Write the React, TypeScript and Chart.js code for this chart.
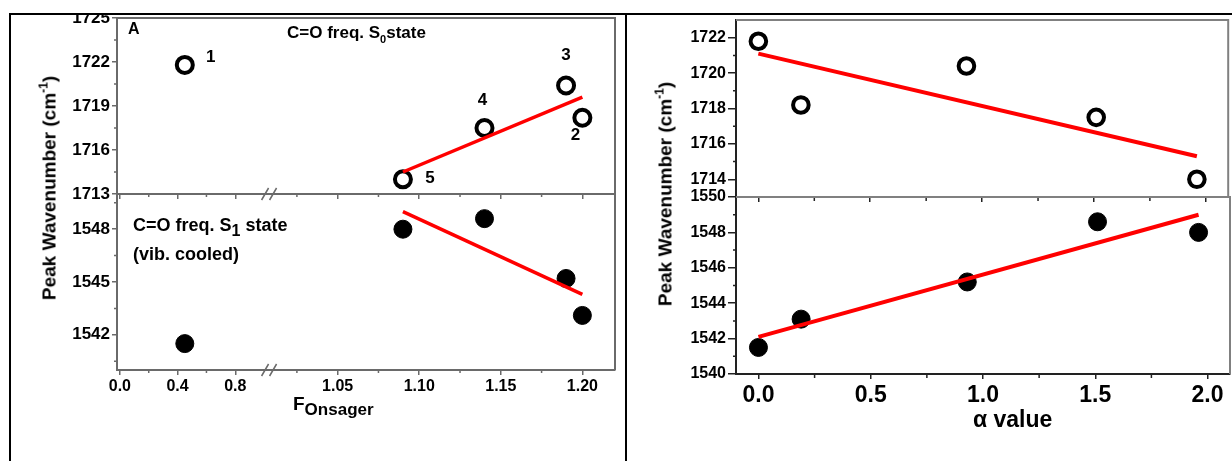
import React, { useEffect, useRef } from 'react';
import { Chart, registerables, LinearScale } from 'chart.js';

Chart.register(...registerables);

// ---------------- data ----------------
const compoundIds = ['1', '2', '3', '4', '5'];
const fOnsager = [0.45, 1.2, 1.19, 1.14, 1.09];
const alphaValue = [0.0, 0.19, 0.93, 1.51, 1.96];
const s0Freq = [1721.8, 1718.2, 1720.4, 1717.5, 1714.0];
const s1Freq = [1541.5, 1543.1, 1545.2, 1548.6, 1548.0];

// linear fit end points
const onsagerFitX = [1.09, 1.2];
const s0OnsagerFitY = [1714.5, 1719.6];
const s1OnsagerFitY = [1549.0, 1544.3];
const alphaFitX = [0.0, 1.96];
const s0AlphaFitY = [1721.1, 1715.3];
const s1AlphaFitY = [1542.1, 1549.0];

// ticks
const onsagerTicks = [0, 0.4, 0.8, 1.05, 1.1, 1.15, 1.2];
const onsagerTickLabels = ['0.0', '0.4', '0.8', '1.05', '1.10', '1.15', '1.20'];
const onsagerMinorTicks = [0.2, 0.6, 1.025, 1.075, 1.125, 1.175];
const s0LeftTicks = [1713, 1716, 1719, 1722, 1725];
const s0LeftMinor = [1714.5, 1717.5, 1720.5, 1723.5];
const s1LeftTicks = [1542, 1545, 1548];
const s1LeftMinor = [1540.5, 1543.5, 1546.5, 1549.5];
const alphaTicks = [0, 0.5, 1, 1.5, 2];
const alphaTickLabels = ['0.0', '0.5', '1.0', '1.5', '2.0'];
const alphaMinor = [0.25, 0.75, 1.25, 1.75];
const s0RightTicks = [1714, 1716, 1718, 1720, 1722];
const s0RightMinor = [1715, 1717, 1719, 1721];
const s1RightTicks = [1540, 1542, 1544, 1546, 1548, 1550];
const s1RightMinor = [1541, 1543, 1545, 1547, 1549];

// ---------------- styling ----------------
const FONT = '"Liberation Sans", Arial, Helvetica, sans-serif';
const RED = '#ff0000';
const AX_L = '#6a6a6a';
const AX_R = '#222222';
const BOX_R = '#808080';

// broken x axis (left panel): value ranges and the share of the axis each one gets
const BREAK_SEGMENTS = [
  { min: -0.02, max: 0.99, from: 0, to: 0.2926 },
  { min: 1.01, max: 1.22, from: 0.3121, to: 1 },
];

class BrokenLinearScale extends LinearScale {
  static id = 'brokenLinear';
  static defaults = LinearScale.defaults;
  getPixelForValue(value: number) {
    const split = (BREAK_SEGMENTS[0].max + BREAK_SEGMENTS[1].min) / 2;
    const seg = value <= split ? BREAK_SEGMENTS[0] : BREAK_SEGMENTS[1];
    const dec = seg.from + ((value - seg.min) / (seg.max - seg.min)) * (seg.to - seg.from);
    return this.getPixelForDecimal(dec);
  }
  getValueForPixel(pixel: number) {
    const dec = this.getDecimalForPixel(pixel);
    const split = (BREAK_SEGMENTS[0].to + BREAK_SEGMENTS[1].from) / 2;
    const seg = dec <= split ? BREAK_SEGMENTS[0] : BREAK_SEGMENTS[1];
    return seg.min + ((dec - seg.from) / (seg.to - seg.from)) * (seg.max - seg.min);
  }
}
Chart.register(BrokenLinearScale as any);

function pts(xs: number[], ys: number[]) {
  return xs.map((x, i) => ({ x, y: ys[i] }));
}

function makeAxis(o: any) {
  return {
    type: o.type || 'linear',
    position: o.position,
    min: o.min,
    max: o.max,
    bounds: 'data',
    grid: {
      display: true,
      drawOnChartArea: false,
      drawTicks: true,
      tickLength: o.tickLength,
      color: o.color,
      lineWidth: 1.5,
    },
    border: { display: true, color: o.color, width: 2 },
    ticks: {
      display: o.showLabels,
      autoSkip: false,
      maxRotation: 0,
      minRotation: 0,
      padding: o.padding ?? 2,
      color: '#000',
      font: { family: FONT, weight: 'bold', size: o.fontSize ?? 16 },
      callback: (_v: any, i: number) => (o.labels ? o.labels[i] : String(o.values[i])),
    },
    afterBuildTicks: (s: any) => {
      s.ticks = o.values.map((v: number) => ({ value: v }));
    },
    afterFit: (s: any) => {
      if (o.position === 'left') s.width = o.size;
      else s.height = o.size;
      s.paddingLeft = 0;
      s.paddingRight = 0;
      s.paddingTop = 0;
      s.paddingBottom = 0;
    },
  };
}

function decorPlugin(d: any) {
  return {
    id: 'decor',
    afterDraw(chart: any) {
      const { ctx, chartArea: a, scales } = chart;
      ctx.save();
      // plot box (top & right)
      ctx.strokeStyle = d.boxColor;
      ctx.lineWidth = 2;
      ctx.beginPath();
      ctx.moveTo(a.left, a.top);
      ctx.lineTo(a.right, a.top);
      ctx.lineTo(a.right, a.bottom);
      ctx.stroke();
      // minor ticks
      ctx.strokeStyle = d.axisColor;
      ctx.lineWidth = 1.5;
      ctx.beginPath();
      for (const v of d.minorX) {
        const p = scales.x.getPixelForValue(v);
        ctx.moveTo(p, a.bottom);
        ctx.lineTo(p, a.bottom + d.minorLenX);
      }
      for (const v of d.minorY) {
        const p = scales.y.getPixelForValue(v);
        ctx.moveTo(a.left, p);
        ctx.lineTo(a.left - d.minorLenY, p);
      }
      ctx.stroke();
      // axis break marks
      if (d.breakMark) {
        const x0 = scales.x.getPixelForValue(BREAK_SEGMENTS[0].max);
        const x1 = scales.x.getPixelForValue(BREAK_SEGMENTS[1].min);
        const cx = (x0 + x1) / 2 + 1.5;
        const y = a.bottom;
        ctx.strokeStyle = d.axisColor;
        ctx.lineWidth = 1.5;
        ctx.beginPath();
        for (const dx of [-4, 4]) {
          ctx.moveTo(cx + dx - 3.5, y + 6);
          ctx.lineTo(cx + dx + 3.5, y - 6);
        }
        ctx.stroke();
      }
      // point labels
      if (d.pointLabels) {
        const meta = chart.getDatasetMeta(d.pointLabels.datasetIndex);
        ctx.fillStyle = '#000';
        ctx.font = `bold ${d.pointLabels.size}px ${FONT}`;
        ctx.textAlign = 'center';
        ctx.textBaseline = 'alphabetic';
        d.pointLabels.labels.forEach((t: string, i: number) => {
          const el = meta.data[i];
          const off = d.pointLabels.offsets[i];
          ctx.fillText(t, el.x + off[0], el.y + off[1]);
        });
      }
      ctx.restore();
    },
  };
}

function fitDataset(xs: number[], ys: number[], w: number) {
  return {
    data: pts(xs, ys),
    showLine: true,
    borderColor: RED,
    backgroundColor: RED,
    borderWidth: w,
    pointRadius: 0,
    pointHoverRadius: 0,
    fill: false,
    tension: 0,
  };
}
function openDataset(xs: number[], ys: number[], r: number) {
  return {
    data: pts(xs, ys),
    showLine: false,
    pointStyle: 'circle',
    pointRadius: r,
    pointHoverRadius: r,
    pointBorderWidth: 4,
    pointBorderColor: '#000',
    pointBackgroundColor: 'rgba(255,255,255,0)',
  };
}
function filledDataset(xs: number[], ys: number[], r: number) {
  return {
    data: pts(xs, ys),
    showLine: false,
    pointStyle: 'circle',
    pointRadius: r,
    pointHoverRadius: r,
    pointBorderWidth: 1,
    pointBorderColor: '#000',
    pointBackgroundColor: '#000',
  };
}

const LABEL_OFFSETS = [
  [26, -3],
  [-7, 22],
  [0, -25],
  [-2, -23],
  [27, 4],
];

function buildConfig(s: any) {
  return {
    type: 'scatter',
    data: { datasets: s.datasets },
    options: {
      responsive: false,
      maintainAspectRatio: false,
      animation: false,
      events: [],
      layout: { padding: s.padding },
      plugins: { legend: { display: false }, tooltip: { enabled: false }, title: { display: false } },
      scales: { x: makeAxis(s.x), y: makeAxis(s.y) },
    },
    plugins: [decorPlugin(s.decor)],
  } as any;
}

const CANVASES = [
  { left: 0, top: 0, width: 640, height: 215 },
  { left: 0, top: 180, width: 640, height: 281 },
  { left: 640, top: 0, width: 600, height: 215 },
  { left: 640, top: 183, width: 600, height: 278 },
];

function specs() {
  const lx = { type: 'brokenLinear', position: 'bottom', min: -0.02, max: 1.22, values: onsagerTicks, labels: onsagerTickLabels, tickLength: 5, color: AX_L };
  const rx = { type: 'linear', position: 'bottom', min: -0.1, max: 2.1, values: alphaTicks, labels: alphaTickLabels, tickLength: 5, color: AX_R };
  return [
    {
      padding: { left: 0, top: 18, right: 25, bottom: 13 },
      x: { ...lx, showLabels: false, size: 8 },
      y: { position: 'left', min: 1713, max: 1725, values: s0LeftTicks, showLabels: true, size: 117, tickLength: 5, padding: 2, fontSize: 17, color: AX_L },
      datasets: [fitDataset(onsagerFitX, s0OnsagerFitY, 3.5), openDataset(fOnsager, s0Freq, 8)],
      decor: {
        boxColor: AX_L, axisColor: AX_L, minorX: onsagerMinorTicks, minorY: s0LeftMinor, minorLenX: 3, minorLenY: 3, breakMark: true,
        pointLabels: { datasetIndex: 1, labels: compoundIds, offsets: LABEL_OFFSETS, size: 17 },
      },
    },
    {
      padding: { left: 0, top: 14, right: 25, bottom: 51 },
      x: { ...lx, showLabels: true, size: 40, fontSize: 16, padding: 2 },
      y: { position: 'left', min: 1540, max: 1550, values: s1LeftTicks, showLabels: true, size: 117, tickLength: 5, padding: 2, fontSize: 17, color: AX_L },
      datasets: [fitDataset(onsagerFitX, s1OnsagerFitY, 3.5), filledDataset(fOnsager, s1Freq, 9)],
      decor: { boxColor: AX_L, axisColor: AX_L, minorX: onsagerMinorTicks, minorY: s1LeftMinor, minorLenX: 3, minorLenY: 3, breakMark: true },
    },
    {
      padding: { left: 0, top: 20, right: 5.3, bottom: 10 },
      x: { ...rx, showLabels: false, size: 8 },
      y: { position: 'left', min: 1713, max: 1723, values: s0RightTicks, showLabels: true, size: 96, tickLength: 8, padding: 2, fontSize: 16, color: AX_R },
      datasets: [fitDataset(alphaFitX, s0AlphaFitY, 4), openDataset(alphaValue, s0Freq, 7.8)],
      decor: { boxColor: BOX_R, axisColor: AX_R, minorX: alphaMinor, minorY: s0RightMinor, minorLenX: 4, minorLenY: 3, breakMark: false },
    },
    {
      padding: { left: 0, top: 14, right: 5.3, bottom: 47 },
      x: { ...rx, showLabels: true, size: 40, fontSize: 23, padding: 3 },
      y: { position: 'left', min: 1540, max: 1550, values: s1RightTicks, showLabels: true, size: 96, tickLength: 8, padding: 2, fontSize: 16, color: AX_R },
      datasets: [fitDataset(alphaFitX, s1AlphaFitY, 4), filledDataset(alphaValue, s1Freq, 9)],
      decor: { boxColor: BOX_R, axisColor: AX_R, minorX: alphaMinor, minorY: s1RightMinor, minorLenX: 4, minorLenY: 3, breakMark: false },
    },
  ];
}

function Txt(props: { x: number; baseline: number; size: number; children: any; style?: any }) {
  const { x, baseline, size, children, style } = props;
  return (
    <div
      style={{
        position: 'absolute',
        left: x,
        top: baseline - 0.8465 * size,
        fontSize: size,
        lineHeight: `${size}px`,
        fontWeight: 'bold',
        whiteSpace: 'nowrap',
        color: '#000',
        ...style,
      }}
    >
      {children}
    </div>
  );
}

function YTitle(props: { cx: number; cy: number; size: number }) {
  const { cx, cy, size } = props;
  return (
    <div
      style={{
        position: 'absolute',
        left: cx,
        top: cy,
        transform: 'translate(-50%, -50%) rotate(-90deg)',
        fontSize: size,
        lineHeight: `${size}px`,
        fontWeight: 'bold',
        whiteSpace: 'nowrap',
        color: '#000',
      }}
    >
      Peak Wavenumber (cm
      <span style={{ fontSize: Math.round(size * 0.65), lineHeight: 1, position: 'relative', top: -size * 0.42 }}>-1</span>)
    </div>
  );
}

export default function App() {
  const r0 = useRef<HTMLCanvasElement>(null);
  const r1 = useRef<HTMLCanvasElement>(null);
  const r2 = useRef<HTMLCanvasElement>(null);
  const r3 = useRef<HTMLCanvasElement>(null);
  const refs = [r0, r1, r2, r3];

  useEffect(() => {
    const ss = specs();
    const charts = ss.map((s, i) => new Chart(refs[i].current as HTMLCanvasElement, buildConfig(s)));
    return () => charts.forEach((c) => c.destroy());
  }, []);

  return (
    <div
      style={{
        position: 'absolute',
        left: 0,
        top: 0,
        width: 1232,
        height: 461,
        overflow: 'hidden',
        background: '#fff',
        fontFamily: FONT,
      }}
    >
      {CANVASES.map((c, i) => (
        <canvas
          key={i}
          ref={refs[i]}
          width={c.width}
          height={c.height}
          style={{ position: 'absolute', left: c.left, top: c.top, width: c.width, height: c.height }}
        />
      ))}

      {/* frame */}
      <div style={{ position: 'absolute', left: 0, top: 0, width: 1232, height: 13, background: '#fff' }} />
      <div style={{ position: 'absolute', left: 9, top: 13, width: 1223, height: 2, background: '#000' }} />
      <div style={{ position: 'absolute', left: 9, top: 13, width: 2, height: 448, background: '#000' }} />
      <div style={{ position: 'absolute', left: 625, top: 13, width: 2, height: 448, background: '#000' }} />

      {/* left panel texts */}
      <Txt x={128} baseline={35} size={16}>A</Txt>
      <Txt x={287} baseline={38.3} size={17}>
        C=O freq. S<span style={{ fontSize: 11, lineHeight: 1, position: 'relative', top: 5 }}>0</span>state
      </Txt>
      <Txt x={133} baseline={231.7} size={18}>
        C=O freq. S<span style={{ fontSize: 16, lineHeight: 1, position: 'relative', top: 5 }}>1</span> state
      </Txt>
      <Txt x={133} baseline={260} size={18}>(vib. cooled)</Txt>
      <YTitle cx={48.5} cy={187.5} size={19} />
      <Txt x={293} baseline={410.5} size={19}>
        F<span style={{ fontSize: 17, lineHeight: 1, position: 'relative', top: 5 }}>Onsager</span>
      </Txt>

      {/* right panel texts */}
      <YTitle cx={664.5} cy={193.5} size={19} />
      <Txt x={973} baseline={427.7} size={23}>α value</Txt>
    </div>
  );
}
